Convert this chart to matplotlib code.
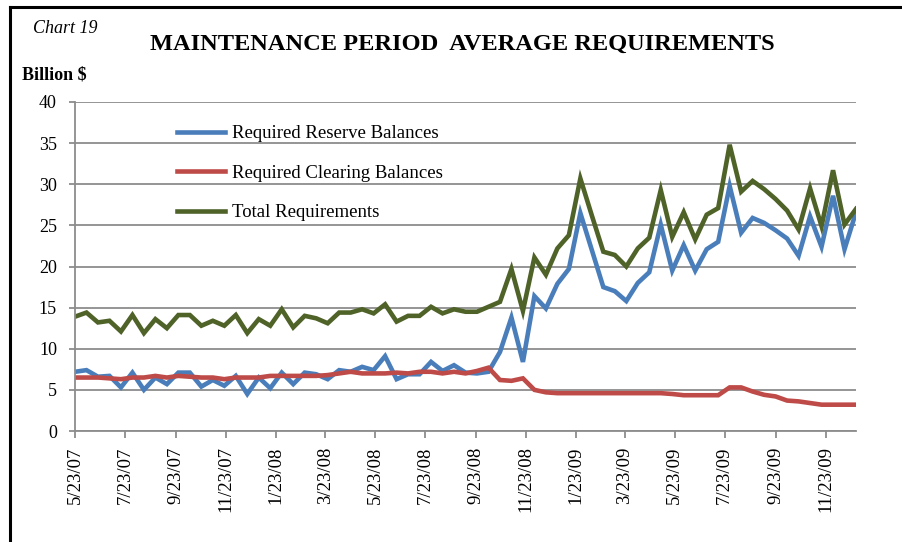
import matplotlib
matplotlib.use("Agg")
import matplotlib.pyplot as plt
import matplotlib.dates as mdates
from matplotlib.lines import Line2D
import pandas as pd

plt.rcParams["font.family"] = ["Liberation Serif", "DejaVu Serif"]

# biweekly maintenance periods
dates = pd.date_range("2007-05-23", periods=69, freq="14D")

reserve = [7.2, 7.4, 6.6, 6.7, 5.3, 7.1, 5.0, 6.5, 5.7, 7.1,
           7.1, 5.4, 6.2, 5.5, 6.7, 4.5, 6.5, 5.2, 7.1, 5.7,
           7.1, 6.9, 6.3, 7.4, 7.2, 7.8, 7.4, 9.1, 6.3, 6.9,
           6.9, 8.4, 7.3, 8.0, 7.1, 7.0, 7.2, 9.6, 13.8, 8.4,
           16.4, 14.9, 17.9, 19.7, 26.5, 22.0, 17.5, 17.0, 15.8, 18.0,
           19.3, 25.1, 19.5, 22.6, 19.5, 22.1, 23.0, 29.8, 24.1, 25.9,
           25.3, 24.4, 23.4, 21.3, 26.1, 22.4, 28.6, 22.1, 26.6]

clearing = [6.5, 6.5, 6.5, 6.4, 6.3, 6.5, 6.5, 6.7, 6.5, 6.7,
            6.6, 6.5, 6.5, 6.3, 6.5, 6.5, 6.5, 6.7, 6.7, 6.7,
            6.7, 6.7, 6.8, 7.0, 7.2, 7.0, 7.0, 7.0, 7.1, 7.0,
            7.2, 7.2, 7.0, 7.2, 7.0, 7.3, 7.7, 6.2, 6.1, 6.4,
            5.0, 4.7, 4.6, 4.6, 4.6, 4.6, 4.6, 4.6, 4.6, 4.6,
            4.6, 4.6, 4.5, 4.35, 4.35, 4.35, 4.35, 5.3, 5.3, 4.8,
            4.4, 4.2, 3.7, 3.6, 3.4, 3.2, 3.2, 3.2, 3.2]

total = [13.9, 14.4, 13.2, 13.4, 12.1, 14.1, 11.9, 13.6, 12.5, 14.1,
         14.1, 12.8, 13.4, 12.8, 14.1, 11.9, 13.6, 12.8, 14.8, 12.6,
         14.0, 13.7, 13.1, 14.4, 14.4, 14.8, 14.3, 15.4, 13.3, 14.0,
         14.0, 15.1, 14.3, 14.8, 14.5, 14.5, 15.1, 15.7, 19.7, 14.6,
         21.1, 19.0, 22.2, 23.8, 30.7, 26.2, 21.8, 21.4, 20.0, 22.2,
         23.5, 29.3, 23.6, 26.6, 23.3, 26.3, 27.1, 34.8, 29.1, 30.4,
         29.4, 28.2, 26.8, 24.5, 29.5, 24.9, 31.7, 25.1, 27.0]

labels = ["Required Reserve Balances", "Required Clearing Balances",
          "Total Requirements"]
colors = ["#4A7EBB", "#BE4B48", "#4F6228"]

fig = plt.figure(figsize=(9.02, 5.42), dpi=100)
ax = fig.add_axes([75 / 902, 1 - 431 / 542, 781 / 902, 329 / 542])

ax.plot(dates, reserve, color=colors[0], lw=3.3, label=labels[0],
        solid_joinstyle="miter")
ax.plot(dates, clearing, color=colors[1], lw=3.3, label=labels[1],
        solid_joinstyle="miter")
ax.plot(dates, total, color=colors[2], lw=3.3, label=labels[2],
        solid_joinstyle="miter")

ax.set_xlim(dates[0], dates[-1])
ax.set_ylim(0, 40)
ax.set_yticks(range(0, 41, 5))
ax.yaxis.grid(True, color="#8C8C8C", lw=1.3)
ax.set_axisbelow(True)

ax.xaxis.set_major_locator(mdates.MonthLocator(bymonth=range(1, 13, 2), bymonthday=23))
ax.xaxis.set_major_formatter(
    plt.FuncFormatter(lambda v, p: (lambda d: f"{d.month}/{d.day}/{d:%y}")(mdates.num2date(v))))

for s in ["top", "right"]:
    ax.spines[s].set_visible(False)
for s in ["left", "bottom"]:
    ax.spines[s].set_color("#8C8C8C")
    ax.spines[s].set_linewidth(1.3)

ax.tick_params(axis="x", direction="out", length=5, width=1.3, color="#8C8C8C",
               labelsize=13.5, labelrotation=90, pad=6)
ax.tick_params(axis="y", direction="out", length=4, width=1.3, color="#8C8C8C",
               labelsize=13, pad=9)

handles = [Line2D([], [], color=c, lw=3.3) for c in colors]
ax.legend(handles, labels, loc="upper left", bbox_to_anchor=(0.13, 0.93),
          frameon=False, fontsize=13.5, handlelength=2.6, handletextpad=0.35,
          labelspacing=1.2, borderpad=0, borderaxespad=0)

fig.text(0.512, 0.918, "MAINTENANCE PERIOD  AVERAGE REQUIREMENTS",
         ha="center", va="center", fontsize=17.6, fontweight="bold")
fig.text(33 / 902, 0.948, "Chart 19", ha="left", va="center", fontsize=13,
         style="italic")
fig.text(22 / 902, 0.862, "Billion $", ha="left", va="center", fontsize=13,
         fontweight="bold")

# frame of the page (top and left edges)
fig.add_artist(Line2D([10 / 902, 10 / 902], [0, 1 - 7 / 542], color="black", lw=2.2,
                      transform=fig.transFigure))
fig.add_artist(Line2D([10 / 902, 1], [1 - 7 / 542, 1 - 7 / 542], color="black", lw=2.2,
                      transform=fig.transFigure))

fig.savefig("out.png", dpi=100)
